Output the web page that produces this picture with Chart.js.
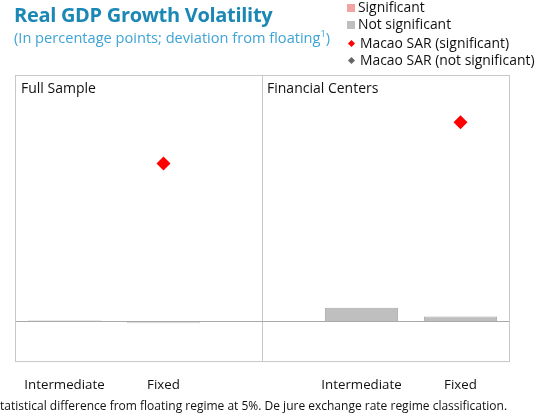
<!DOCTYPE html>
<html>
<head>
<meta charset="utf-8">
<script src="https://cdn.jsdelivr.net/npm/chart.js@4"></script>
<style>
  body { margin: 0; background: #fff; font-family: "Open Sans", "Noto Sans", sans-serif; }
  #wrap { position: relative; width: 547px; height: 418px; overflow: hidden; }
  #chart { position: absolute; left: 0; top: 0; }
  .abs { position: absolute; white-space: nowrap; }
  #title { left: 14px; top: 1px; font-size: 20px; font-weight: bold; color: #1a87b5; letter-spacing: -0.3px; }
  #sub { left: 14px; top: 27px; font-size: 14.6px; color: #3ea3d6; }
  #sub sup { font-size: 9px; }
  .leg { left: 347px; font-size: 13.9px; color: #111; }
  .sq { display: inline-block; width: 8px; height: 8px; margin-right: 3px; vertical-align: 0px; }
  .dm { display: inline-block; width: 5px; height: 5px; transform: rotate(45deg); margin: 0 6px 0 2px; vertical-align: 2px; }
  .panel { font-size: 14px; color: #111; top: 78px; }
  #foot { left: 0; top: 397px; font-size: 12px; color: #111; }
</style>
</head>
<body>
<div id="wrap">
  <canvas id="chart" width="547" height="418"></canvas>
  <div class="abs" id="title">Real GDP Growth Volatility</div>
  <div class="abs" id="sub">(In percentage points; deviation from floating<sup>1</sup>)</div>
  <div class="abs leg" style="top:-3px"><span class="sq" style="background:#f4a3a3"></span>Significant</div>
  <div class="abs leg" style="top:14px"><span class="sq" style="background:#bfbfbf"></span>Not significant</div>
  <div class="abs leg" style="top:33px"><span class="dm" style="background:#ff0000"></span>Macao SAR (significant)</div>
  <div class="abs leg" style="top:50px"><span class="dm" style="background:#666"></span>Macao SAR (not significant)</div>
  <div class="abs panel" style="left:21px">Full Sample</div>
  <div class="abs panel" style="left:267px">Financial Centers</div>
  <div class="abs" id="foot">tatistical difference from floating regime at 5%. De jure exchange rate regime classification.</div>
</div>
<script>
const categories = ['Intermediate', 'Fixed', '', 'Intermediate', 'Fixed'];
const significant = [null, null, null, null, null];
const notSignificant = [0.03, -0.04, null, 0.35, 0.13];
const macaoSignificant = [null, 3.93, null, null, 4.95];
const macaoNotSignificant = [null, null, null, null, null];

// outer frame of the plot area
const frame = {
  id: 'frame',
  afterDraw(chart) {
    const { ctx, chartArea: a } = chart;
    ctx.save();
    ctx.strokeStyle = '#c8c8c8';
    ctx.lineWidth = 1;
    ctx.strokeRect(a.left + 0.5, a.top + 0.5, a.right - a.left - 1, a.bottom - a.top - 1);
    ctx.restore();
  }
};

new Chart(document.getElementById('chart'), {
  data: {
    labels: categories,
    datasets: [
      {
        type: 'bar',
        label: 'Significant',
        data: significant,
        backgroundColor: '#f4a3a3',
        grouped: false,
        barPercentage: 0.74,
        categoryPercentage: 1
      },
      {
        type: 'bar',
        label: 'Not significant',
        data: notSignificant,
        backgroundColor: '#bfbfbf',
        borderColor: '#a8a8a8',
        borderWidth: 1,
        grouped: false,
        barPercentage: 0.74,
        categoryPercentage: 1
      },
      {
        type: 'line',
        label: 'Macao SAR (significant)',
        data: macaoSignificant,
        showLine: false,
        pointStyle: 'rectRot',
        pointRadius: 7,
        backgroundColor: '#ff0000',
        borderColor: '#ff0000',
        borderWidth: 0
      },
      {
        type: 'line',
        label: 'Macao SAR (not significant)',
        data: macaoNotSignificant,
        showLine: false,
        pointStyle: 'rectRot',
        pointRadius: 7,
        backgroundColor: '#666666',
        borderColor: '#666666',
        borderWidth: 0
      }
    ]
  },
  options: {
    responsive: false,
    animation: false,
    layout: { padding: { left: 15, right: 37, top: 75, bottom: 10 } },
    plugins: { legend: { display: false }, tooltip: { enabled: false } },
    scales: {
      x: {
        offset: true,
        grid: {
          offset: false,
          drawTicks: false,
          color: ctx => ctx.index === 2 ? '#c8c8c8' : 'rgba(0,0,0,0)'
        },
        border: { display: false },
        ticks: {
          padding: 15,
          color: '#111',
          font: { family: '"Open Sans", "Noto Sans", sans-serif', size: 13.3 }
        }
      },
      y: {
        min: -1,
        max: 6.125,
        grid: {
          drawTicks: false,
          color: ctx => ctx.tick && ctx.tick.value === 0 ? '#a8a8a8' : 'rgba(0,0,0,0)'
        },
        border: { display: false },
        ticks: { display: false, stepSize: 1 }
      }
    }
  },
  plugins: [frame]
});
</script>
</body>
</html>
